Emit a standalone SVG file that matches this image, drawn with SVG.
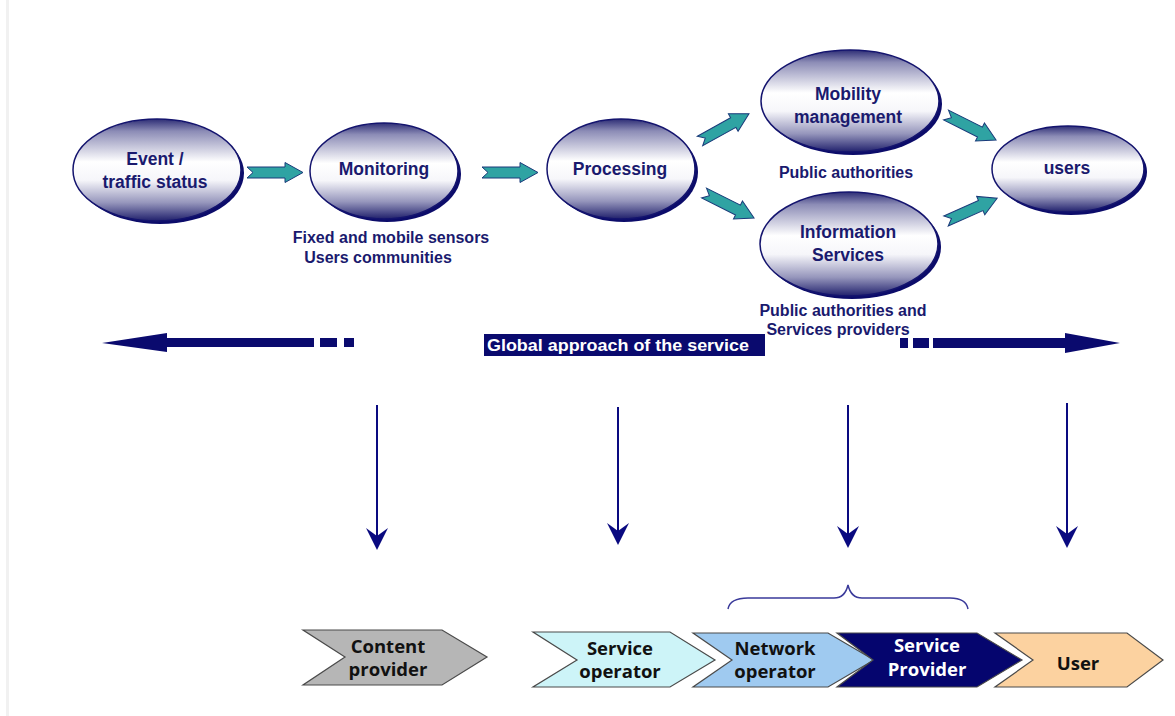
<svg xmlns="http://www.w3.org/2000/svg" width="1175" height="716" viewBox="0 0 1175 716">
<defs>
<linearGradient id="eg" x1="0" y1="0" x2="0" y2="1">
<stop offset="0" stop-color="#2e2e76"/>
<stop offset="0.12" stop-color="#8c8cb6"/>
<stop offset="0.42" stop-color="#ffffff"/>
<stop offset="0.6" stop-color="#f6f6fa"/>
<stop offset="0.82" stop-color="#9696bc"/>
<stop offset="1" stop-color="#20206c"/>
</linearGradient>
<path id="ta" d="M0,-5.5 L38,-5.5 L38,-10 L56,0 L38,10 L38,5.5 L0,5.5 L6,0 Z"/>
</defs>
<style>
.sh{fill:#0c0c6a}
.el{fill:url(#eg);stroke:#14146e;stroke-width:1.5}
.nt{font-family:"Liberation Sans",Arial,sans-serif;font-weight:bold;font-size:17.5px;fill:#1a1a6e;text-anchor:middle}
.sub{font-family:"Liberation Sans",Arial,sans-serif;font-weight:bold;font-size:16px;fill:#1a1a6e;text-anchor:middle}
.tl{fill:#2fa3a3;stroke:#1a3a7a;stroke-width:1}
.nav{fill:#0a0a6e}
.vl{stroke:#0a0a80;stroke-width:2;fill:none}
.vh{fill:#0a0a80}
.ch{stroke:#4a4a4a;stroke-width:1.2}
.ct{font-family:"Open Sans","Noto Sans",sans-serif;font-weight:bold;font-size:18.5px;text-anchor:middle;fill:#111}
</style>
<rect width="1175" height="716" fill="#ffffff"/>
<rect x="6" y="0" width="3" height="716" fill="#f1f1f1"/>

<g id="node-event">
<ellipse class="sh" cx="160" cy="173" rx="84" ry="51"/>
<ellipse class="el" cx="157" cy="170" rx="84" ry="51"/>
<text class="nt" x="155" y="165">Event /</text>
<text class="nt" x="155" y="188">traffic status</text>
</g>
<g id="node-monitoring">
<ellipse class="sh" cx="387" cy="174" rx="74" ry="48"/>
<ellipse class="el" cx="384" cy="171" rx="74" ry="48"/>
<text class="nt" x="384" y="175">Monitoring</text>
<text class="sub" x="391" y="243">Fixed and mobile sensors</text>
<text class="sub" x="378" y="263">Users communities</text>
</g>
<g id="node-processing">
<ellipse class="sh" cx="624" cy="172" rx="74" ry="50"/>
<ellipse class="el" cx="621" cy="169" rx="74" ry="50"/>
<text class="nt" x="620" y="175">Processing</text>
</g>
<g id="node-mobility">
<ellipse class="sh" cx="853" cy="104" rx="89" ry="51"/>
<ellipse class="el" cx="850" cy="101" rx="89" ry="51"/>
<text class="nt" x="848" y="100">Mobility</text>
<text class="nt" x="848" y="123">management</text>
<text class="sub" x="846" y="178">Public authorities</text>
</g>
<g id="node-information">
<ellipse class="sh" cx="852" cy="247" rx="89" ry="52"/>
<ellipse class="el" cx="849" cy="244" rx="89" ry="52"/>
<text class="nt" x="848" y="238">Information</text>
<text class="nt" x="848" y="261">Services</text>
<text class="sub" x="843" y="316">Public authorities and</text>
<text class="sub" x="838" y="335">Services providers</text>
</g>
<g id="node-users">
<ellipse class="sh" cx="1071" cy="172" rx="76" ry="43"/>
<ellipse class="el" cx="1068" cy="169" rx="76" ry="43"/>
<text class="nt" x="1067" y="174">users</text>
</g>

<g id="connectors">
<use href="#ta" class="tl" transform="translate(247,172.5)"/>
<use href="#ta" class="tl" transform="translate(482,172.5)"/>
<use href="#ta" class="tl" transform="translate(700,141) rotate(-29)"/>
<use href="#ta" class="tl" transform="translate(704,193) rotate(26.6)"/>
<use href="#ta" class="tl" transform="translate(946,115) rotate(26.6)"/>
<use href="#ta" class="tl" transform="translate(946,221) rotate(-24)"/>

<g id="global-left">
<polygon class="nav" points="102,343 167,333 167,352"/>
<rect class="nav" x="166" y="338" width="148" height="9"/>
<rect class="nav" x="320" y="338" width="17" height="9"/>
<rect class="nav" x="344" y="338" width="10" height="9"/>
</g>
<g id="global-right">
<rect class="nav" x="900" y="338" width="8" height="10"/>
<rect class="nav" x="913" y="338" width="16" height="10"/>
<rect class="nav" x="933" y="338" width="134" height="10"/>
<polygon class="nav" points="1065,333 1120,343 1065,353"/>
</g>

<line class="vl" x1="377" y1="405" x2="377" y2="540"/>
<path class="vh" d="M377,550 L366,528 L377,536 L388,528 Z"/>
<line class="vl" x1="618" y1="407" x2="618" y2="535"/>
<path class="vh" d="M618,545 L607,523 L618,531 L629,523 Z"/>
<line class="vl" x1="848" y1="405" x2="848" y2="538"/>
<path class="vh" d="M848,548 L837,526 L848,534 L859,526 Z"/>
<line class="vl" x1="1067" y1="403" x2="1067" y2="538"/>
<path class="vh" d="M1067,548 L1056,526 L1067,534 L1078,526 Z"/>

<path d="M728,609 Q730,598 748,598 L834,598 Q845,598 848,585 Q851,598 862,598 L950,598 Q966,598 968,609" fill="none" stroke="#3a3a9a" stroke-width="1.5"/>
</g>

<g id="global-label">
<rect x="484" y="334" width="281" height="22" fill="#0a0a6e"/>
<text x="487" y="351" font-family="'Liberation Sans',Arial,sans-serif" font-weight="bold" font-size="17" fill="#ffffff" textLength="262" lengthAdjust="spacingAndGlyphs">Global approach of the service</text>
</g>

<g id="node-content-provider">
<polygon class="ch" fill="#b6b6b6" points="303,630 442,630 487,657 442,685 303,685 345,657"/>
<text class="ct" x="388" y="653">Content</text>
<text class="ct" x="388" y="676">provider</text>
</g>
<g id="node-service-operator">
<polygon class="ch" fill="#cdf4f8" points="533,632 670,632 715,660 670,687 533,687 577,660"/>
<text class="ct" x="620" y="655">Service</text>
<text class="ct" x="620" y="678">operator</text>
</g>
<g id="node-network-operator">
<polygon class="ch" fill="#9fcaf0" points="693,633 828,633 874,660 828,687 693,687 732,660"/>
<text class="ct" x="775" y="655">Network</text>
<text class="ct" x="775" y="678">operator</text>
</g>
<g id="node-service-provider">
<polygon class="ch" fill="#05056e" points="837,633 977,633 1022,660 977,687 837,687 873,660"/>
<text class="ct" x="927" y="652" style="fill:#ffffff">Service</text>
<text class="ct" x="927" y="676" style="fill:#ffffff">Provider</text>
</g>
<g id="node-user">
<polygon class="ch" fill="#fcd2a0" points="995,633 1127,633 1163,660 1127,687 995,687 1033,660"/>
<text class="ct" x="1078" y="670">User</text>
</g>
</svg>
